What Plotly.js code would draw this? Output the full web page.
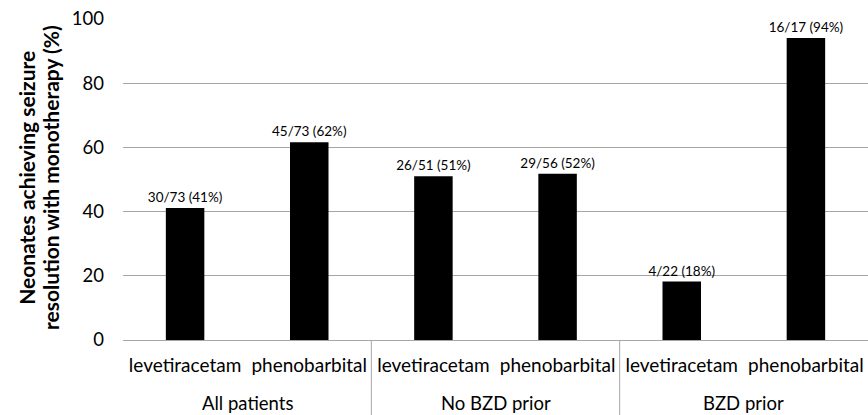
<!DOCTYPE html>
<html>
<head>
<meta charset="utf-8">
<script src="https://cdn.plot.ly/plotly-3.0.1.min.js"></script>
<style>html,body{margin:0;padding:0;background:#fff;}#chart{width:868px;height:415px;}</style>
</head>
<body>
<div id="chart"></div>
<script>
var groups = ["All patients", "No BZD prior", "BZD prior"];
var drugs = ["levetiracetam", "phenobarbital", "levetiracetam", "phenobarbital", "levetiracetam", "phenobarbital"];
var values = [41.1, 61.6, 51.0, 51.8, 18.2, 94.1];
var barLabels = ["30/73 (41%)", "45/73 (62%)", "26/51 (51%)", "29/56 (52%)", "4/22 (18%)", "16/17 (94%)"];
var yTicks = [0, 20, 40, 60, 80, 100];
var yTitleLines = ["Neonates achieving seizure", "resolution with monotherapy (%)"];

var FONT = "Lato, 'Open Sans', sans-serif";
var xs = drugs.map(function(d, i){ return i; });

var trace = {
  type: "bar",
  x: xs,
  y: values,
  text: barLabels,
  textposition: "outside",
  constraintext: "none",
  textfont: {family: FONT, size: 13.5, color: "#000"},
  cliponaxis: false,
  marker: {color: "#000", line: {color: "#000", width: 0}},
  width: 0.31,
  hoverinfo: "none"
};

var annotations = groups.map(function(g, i){
  return {text: g, x: 2*i + 0.5, xref: "x", y: -0.196, yref: "paper",
          xanchor: "center", yanchor: "middle", showarrow: false,
          font: {family: FONT, size: 18.5, color: "#000"}};
});
var titleX = [-0.1289, -0.0966];
yTitleLines.forEach(function(t, i){
  annotations.push({text: t, textangle: -90, xref: "paper", x: titleX[i], yref: "paper", y: 0.505,
    xanchor: "center", yanchor: "middle", showarrow: false,
    font: {family: FONT, size: 21, color: "#000", weight: "bold"}});
});

var shapes = [1.5, 3.5].map(function(p){
  return {type: "line", xref: "x", yref: "paper", x0: p, x1: p, y0: 0, y1: -0.24,
          line: {color: "#a6a6a6", width: 1}};
});

var layout = {
  width: 868, height: 415,
  margin: {l: 123, r: 0, t: 19, b: 75},
  paper_bgcolor: "#fff", plot_bgcolor: "#fff",
  showlegend: false,
  xaxis: {
    range: [-0.5, 5.5], tickmode: "array", tickvals: xs, ticktext: drugs,
    showgrid: false, zeroline: false, showline: true, linecolor: "#a6a6a6", linewidth: 1,
    ticks: "", ticklabelstandoff: 8, tickfont: {family: FONT, size: 19, color: "#000"}, fixedrange: true
  },
  yaxis: {
    range: [0, 100], tickmode: "array", tickvals: yTicks,
    showgrid: true, gridcolor: "#a6a6a6", gridwidth: 1, zeroline: false,
    showline: false, ticks: "", ticklabelstandoff: 18,
    tickfont: {family: FONT, size: 18.5, color: "#000"}, fixedrange: true
  },
  annotations: annotations,
  shapes: shapes
};

Plotly.newPlot("chart", [trace], layout, {displayModeBar: false, staticPlot: true});
</script>
</body>
</html>
